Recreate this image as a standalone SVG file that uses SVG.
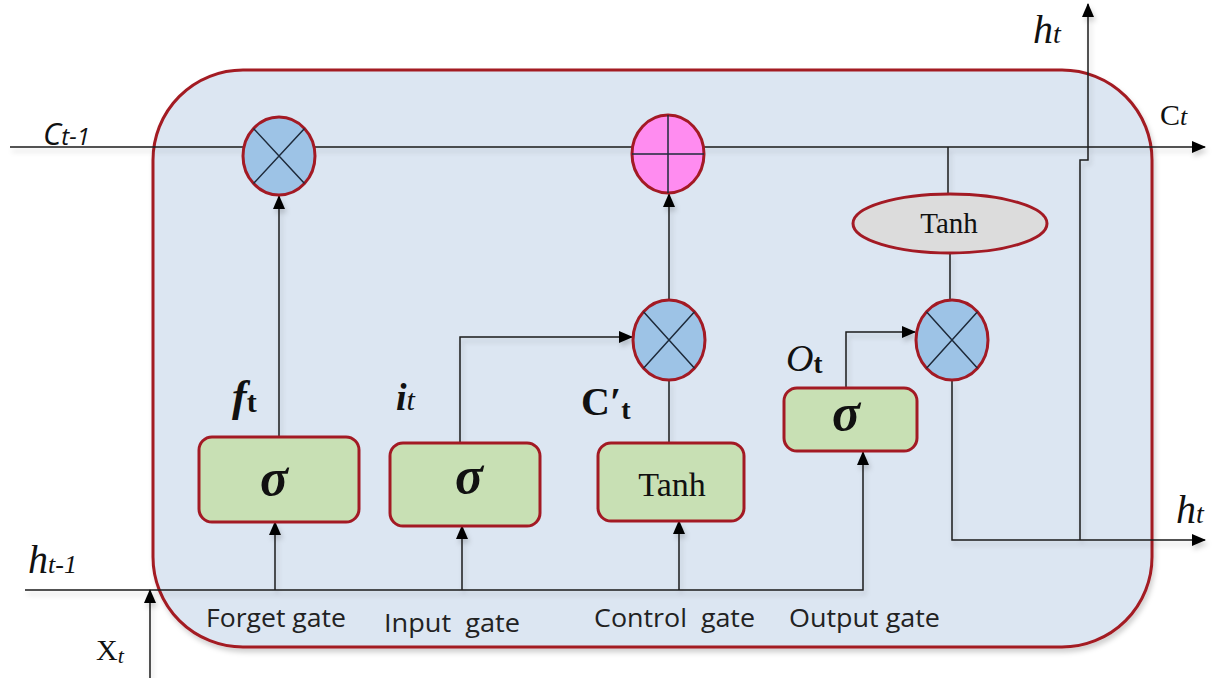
<svg xmlns="http://www.w3.org/2000/svg" width="1213" height="678" viewBox="0 0 1213 678">
  <defs>
    <marker id="arrow" viewBox="0 0 14 12" refX="13" refY="6" markerWidth="14" markerHeight="12" markerUnits="userSpaceOnUse" orient="auto">
      <path d="M0,0 L14,6 L0,12 Z" fill="#000"/>
    </marker>
    <filter id="soft" x="-5%" y="-5%" width="110%" height="115%">
      <feDropShadow dx="2" dy="4" stdDeviation="2.5" flood-color="#000" flood-opacity="0.18"/>
    </filter>
  </defs>
  <style>
    .cell { fill: #dce6f2; stroke: #a31a24; stroke-width: 3; }
    .wire { fill: none; stroke: #1e1e1e; stroke-width: 1.5; }
    .gate { fill: #c8e0b4; stroke: #a31a24; stroke-width: 3; }
    .op { fill: #9dc3e6; stroke: #a31a24; stroke-width: 3; }
    .add { fill: #ff8cf0; stroke: #a31a24; stroke-width: 3; }
    .act { fill: #dcdcdc; stroke: #a31a24; stroke-width: 3; }
    .sym { stroke: #1e2a3a; stroke-width: 1.5; fill: none; }
    .sigma { font-family: "Liberation Serif", serif; font-style: italic; font-weight: bold; fill: #111; text-anchor: middle; }
    .tanh { font-family: "Liberation Serif", serif; fill: #111; text-anchor: middle; }
    .glabel { font-family: "Open Sans", "Liberation Sans", sans-serif; font-size: 25px; fill: #222; }
    .math { font-family: "Liberation Serif", serif; fill: #111; }
    .sans { font-family: "Open Sans", "Liberation Sans", sans-serif; fill: #111; }
  </style>

  <!-- LSTM cell body -->
  <rect id="cell" class="cell" x="153" y="70" width="999" height="577" rx="90" ry="90" filter="url(#soft)"/>

  <!-- connectors -->
  <g id="connectors" class="wire" filter="url(#soft)">
    <path d="M10,147 H1205" marker-end="url(#arrow)"/>
    <path d="M279,437 V196" marker-end="url(#arrow)"/>
    <path d="M669,443 V380"/>
    <path d="M669,300 V194" marker-end="url(#arrow)"/>
    <path d="M460,443 V337 H632" marker-end="url(#arrow)"/>
    <path d="M846,388 V332 H915" marker-end="url(#arrow)"/>
    <path d="M25,590 H863 V452" marker-end="url(#arrow)"/>
    <path d="M275,590 V522" marker-end="url(#arrow)"/>
    <path d="M462,590 V526" marker-end="url(#arrow)"/>
    <path d="M679,590 V521" marker-end="url(#arrow)"/>
    <path d="M150,678 V590" marker-end="url(#arrow)"/>
    <path d="M948,147 V194"/>
    <path d="M950,253 V300"/>
    <path d="M952,380 V540 H1205" marker-end="url(#arrow)"/>
    <path d="M1080,540 V160 H1088 V4" marker-end="url(#arrow)"/>
  </g>

  <!-- pointwise operations -->
  <g id="forget-mul">
    <ellipse class="op" cx="279" cy="156" rx="36" ry="39"/>
    <path class="sym" d="M253.5,128.4 L304.5,183.6 M304.5,128.4 L253.5,183.6"/>
  </g>
  <g id="cell-add">
    <ellipse class="add" cx="668" cy="154" rx="36" ry="39"/>
    <path class="sym" d="M668,115 V193 M632,154 H704"/>
  </g>
  <g id="input-mul">
    <ellipse class="op" cx="669" cy="340" rx="36" ry="40"/>
    <path class="sym" d="M643.5,311.7 L694.5,368.3 M694.5,311.7 L643.5,368.3"/>
  </g>
  <g id="output-mul">
    <ellipse class="op" cx="952" cy="340" rx="36" ry="40"/>
    <path class="sym" d="M926.5,311.7 L977.5,368.3 M977.5,311.7 L926.5,368.3"/>
  </g>
  <g id="cell-tanh">
    <ellipse class="act" cx="950" cy="223.5" rx="97" ry="29.5"/>
    <text class="tanh" x="949" y="233" font-size="29">Tanh</text>
  </g>

  <!-- gate layers -->
  <g id="forget-gate">
    <rect class="gate" x="199" y="437" width="160" height="85" rx="13"/>
    <text class="sigma" x="274" y="495" font-size="52">σ</text>
  </g>
  <g id="input-gate">
    <rect class="gate" x="390" y="443" width="150" height="83" rx="13"/>
    <text class="sigma" x="469" y="493" font-size="52">σ</text>
  </g>
  <g id="control-gate">
    <rect class="gate" x="598" y="443" width="146" height="78" rx="13"/>
    <text class="tanh" x="672" y="496" font-size="34">Tanh</text>
  </g>
  <g id="output-gate">
    <rect class="gate" x="784" y="388" width="133" height="63" rx="13"/>
    <text class="sigma" x="846" y="430" font-size="52">σ</text>
  </g>

  <!-- signal labels -->
  <g id="labels">
    <text class="math" x="232" y="411" font-size="44" font-style="italic" font-weight="bold">f<tspan font-style="normal" font-size="30" dy="1">t</tspan></text>
    <text class="math" x="396" y="410" font-size="38" font-style="italic" font-weight="bold">i<tspan font-weight="normal" font-size="30">t</tspan></text>
    <text class="math" x="581" y="415" font-size="40" font-weight="bold">C′<tspan font-size="28" dy="4">t</tspan></text>
    <text class="math" x="786" y="371" font-size="38" font-style="italic">O<tspan font-style="normal" font-weight="bold" font-size="27" dy="2">t</tspan></text>
    <text class="sans" x="43" y="145" font-size="31" font-style="italic">C<tspan font-size="24">t-1</tspan></text>
    <text class="math" x="1160" y="125" font-size="30">C<tspan font-style="italic" font-size="26">t</tspan></text>
    <text class="math" x="1033" y="43" font-size="40" font-style="italic">h<tspan font-size="28">t</tspan></text>
    <text class="math" x="1176" y="523" font-size="40" font-style="italic">h<tspan font-size="28">t</tspan></text>
    <text class="math" x="28" y="573" font-size="40" font-style="italic">h<tspan font-size="26">t-1</tspan></text>
    <text class="math" x="96" y="660" font-size="30">X<tspan font-style="italic" font-size="22" dy="3">t</tspan></text>
    <text class="glabel" x="206" y="627" textLength="140" lengthAdjust="spacingAndGlyphs">Forget gate</text>
    <text class="glabel" x="384" y="632" textLength="136" lengthAdjust="spacingAndGlyphs" xml:space="preserve">Input  gate</text>
    <text class="glabel" x="594" y="627" textLength="161" lengthAdjust="spacingAndGlyphs" xml:space="preserve">Control  gate</text>
    <text class="glabel" x="789" y="627" textLength="151" lengthAdjust="spacingAndGlyphs">Output gate</text>
  </g>
</svg>
